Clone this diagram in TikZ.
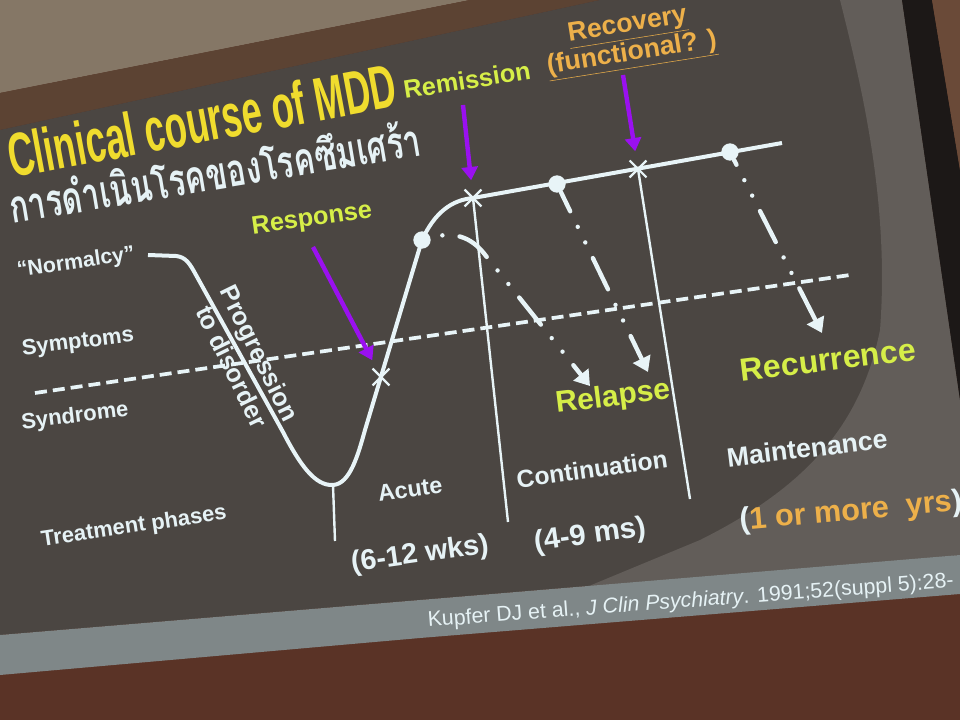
\documentclass[tikz,border=0pt]{standalone}
\usepackage{fontspec}
\setmainfont{Liberation Sans}
\newfontfamily\thaifont[Script=Thai]{Loma}
\usetikzlibrary{arrows.meta,shapes.misc}
\definecolor{ember}{HTML}{5A3326}
\definecolor{plaster}{HTML}{857766}
\definecolor{lintel}{HTML}{5C4333}
\definecolor{screen}{HTML}{4B4642}
\definecolor{screenlight}{HTML}{625D59}
\definecolor{rim}{HTML}{7F8788}
\definecolor{frame}{HTML}{1C1817}
\definecolor{wall}{HTML}{6A4A38}
\definecolor{chalk}{HTML}{E8F4F7}
\definecolor{pale}{HTML}{E6F2F5}
\definecolor{lime}{HTML}{D6EE48}
\definecolor{amber}{HTML}{EDB04A}
\definecolor{gold}{HTML}{F0DC2E}
\definecolor{violet}{HTML}{9A10F0}

\begin{document}
\begin{tikzpicture}[x=0.75pt, y=-0.75pt,
  headline/.style={text=gold, font=\bfseries\fontsize{46}{46}\selectfont, inner sep=0pt},
  thaitag/.style={text=pale, font=\thaifont\bfseries\fontsize{34}{34}\selectfont, inner sep=0pt},
  tag/.style={text=pale, font=\bfseries\fontsize{#1}{#1}\selectfont, inner sep=0pt},
  event/.style={text=lime, font=\bfseries\fontsize{#1}{#1}\selectfont, inner sep=0pt},
  note/.style={text=amber, font=\bfseries\fontsize{#1}{#1}\selectfont, inner sep=0pt, align=center},
  cite/.style={text=pale, font=\fontsize{16}{16}\selectfont, inner sep=0pt},
  course/.style={draw=chalk, line width=3pt, line join=round},
  phaseline/.style={draw=chalk, line width=1.8pt},
  threshold/.style={draw=chalk, line width=2.8pt, dash pattern=on 9pt off 4.5pt},
  fallback/.style={draw=chalk, line width=3.3pt, line cap=round,
    dash pattern=on 0pt off 13pt on 0pt off 13pt on 26pt off 13pt, dash phase=#1,
    -{Triangle[length=11pt, width=14pt]}},
  cue/.style={draw=violet, line width=3.3pt, -{Triangle[length=10pt, width=12pt]}, shorten >=7pt},
  dot/.style={circle, fill=chalk, minimum size=13pt, inner sep=0pt},
  cross/.style={cross out, draw=chalk, line width=1.6pt, minimum size=11pt, inner sep=0pt}
]
\useasboundingbox (0,0) rectangle (960,720);
\fill[ember] (0,0) rectangle (960,720);
\fill[plaster] (0,0) -- (470,0) -- (0,93) -- cycle;
\fill[lintel] (0,93) -- (470,0) -- (600,0) -- (0,130) -- cycle;
\fill[screen] (0,130) -- (600,0) -- (902,0) -- (960,400) -- (960,555) -- (420,600) -- (0,635) -- cycle;
\fill[screenlight] (560,598) -- (700,540) .. controls (800,490) and (860,430) .. (880,330)
  .. controls (890,200) and (860,80) .. (840,0) -- (902,0) -- (960,400) -- (960,555) -- cycle;
\fill[rim] (0,635) -- (420,600) -- (960,555) -- (960,594) -- (420,638) -- (0,675) -- cycle;
\fill[frame] (902,0) -- (932,0) -- (960,170) -- (960,400) -- cycle;
\fill[wall] (932,0) -- (960,0) -- (960,170) -- cycle;

\node[headline, anchor=base west, rotate=10.5, xscale=0.59] (title) at (12,178) {Clinical course of MDD};
\node[thaitag, anchor=base west, rotate=9.5, xscale=0.69] (thai) at (12,224) {การดำเนินโรคของโรคซึมเศร้า};

\draw[threshold] (35,393) -- (850,275);
\draw[course] (148,255) -- (176,256) .. controls (186,257) and (190,264) .. (196,275) -- (283,432)
  .. controls (300,465) and (315,486) .. (333,485) .. controls (350,484) and (358,455) .. (365,430)
  -- (422,240) .. controls (435,212) and (452,200) .. (473,198) -- (782,143);

\node[dot] (onset) at (422,240) {};
\node[dot] (cont) at (557,184) {};
\node[dot] (maint) at (730,152) {};
\node[cross] (respX) at (381,377) {};
\node[cross] (remX) at (473,198) {};
\node[cross] (recX) at (638,169) {};

\coordinate (trough) at (333,485);
\coordinate (acutefoot) at (335,541);
\coordinate (contfoot) at (508,522);
\coordinate (maintfoot) at (690,499);
\draw[phaseline] (trough) -- (acutefoot);
\draw[phaseline] (remX.center) -- (contfoot);
\draw[phaseline] (recX.center) -- (maintfoot);

\coordinate (relapseA) at (590,386);
\coordinate (relapseB) at (648,372);
\coordinate (recur) at (822,333);
\draw[fallback=4pt] (onset) .. controls (458,230) and (474,240) .. (486,256) -- (relapseA);
\draw[fallback=36pt] (cont) -- (relapseB);
\draw[fallback=48pt] (maint) -- (recur);

\coordinate (respcue) at (313,247);
\coordinate (remcue) at (463,105);
\coordinate (reccue) at (623,75);
\draw[cue] (respcue) -- (respX);
\draw[cue] (remcue) -- (remX);
\draw[cue] (reccue) -- (recX);

\node[event=19, rotate=8] (response) at (312,220) {Response};
\node[event=19, rotate=9] (remission) at (467,80) {Remission};
\node[note=20, rotate=9] (recovery) at (630,41) {\underline{Recovery}\\\underline{(functional? )}};
\node[tag=16, rotate=8] (normalcy) at (76,263) {“Normalcy”};
\node[tag=16.5, rotate=7] (symptoms) at (78,343) {Symptoms};
\node[tag=16.5, rotate=7] (syndrome) at (75,417) {Syndrome};
\node[tag=16.5, rotate=8.5] (phases) at (134,527) {Treatment phases};
\node[tag=19, font=\bfseries\fontsize{19}{23}\selectfont, align=center, rotate=-64] (progress) at (246,360) {Progression\\to disorder};
\node[tag=17.5, rotate=8] (acute) at (410,489) {Acute};
\node[tag=18.5, rotate=8] (continuation) at (592,469) {Continuation};
\node[tag=20, rotate=7] (maintenance) at (807,448) {Maintenance};
\node[tag=21.5, rotate=8] (acuteweeks) at (420,555) {(6-12 wks)};
\node[tag=22, rotate=8] (contmonths) at (590,536) {(4-9 ms)};
\node[note=23, anchor=base west, rotate=5] (years) at (740,530) {\textcolor{pale}{(}1 or more\ \ yrs\textcolor{pale}{)}};
\node[event=22.5, rotate=7] (relapse) at (613,398) {Relapse};
\node[event=24, rotate=7] (recurrence) at (828,360) {Recurrence};
\node[cite, anchor=base west, rotate=4.3] (ref) at (428,627) {Kupfer DJ et al., \textit{J Clin Psychiatry}. 1991;52(suppl 5):28-};
\end{tikzpicture}
\end{document}
